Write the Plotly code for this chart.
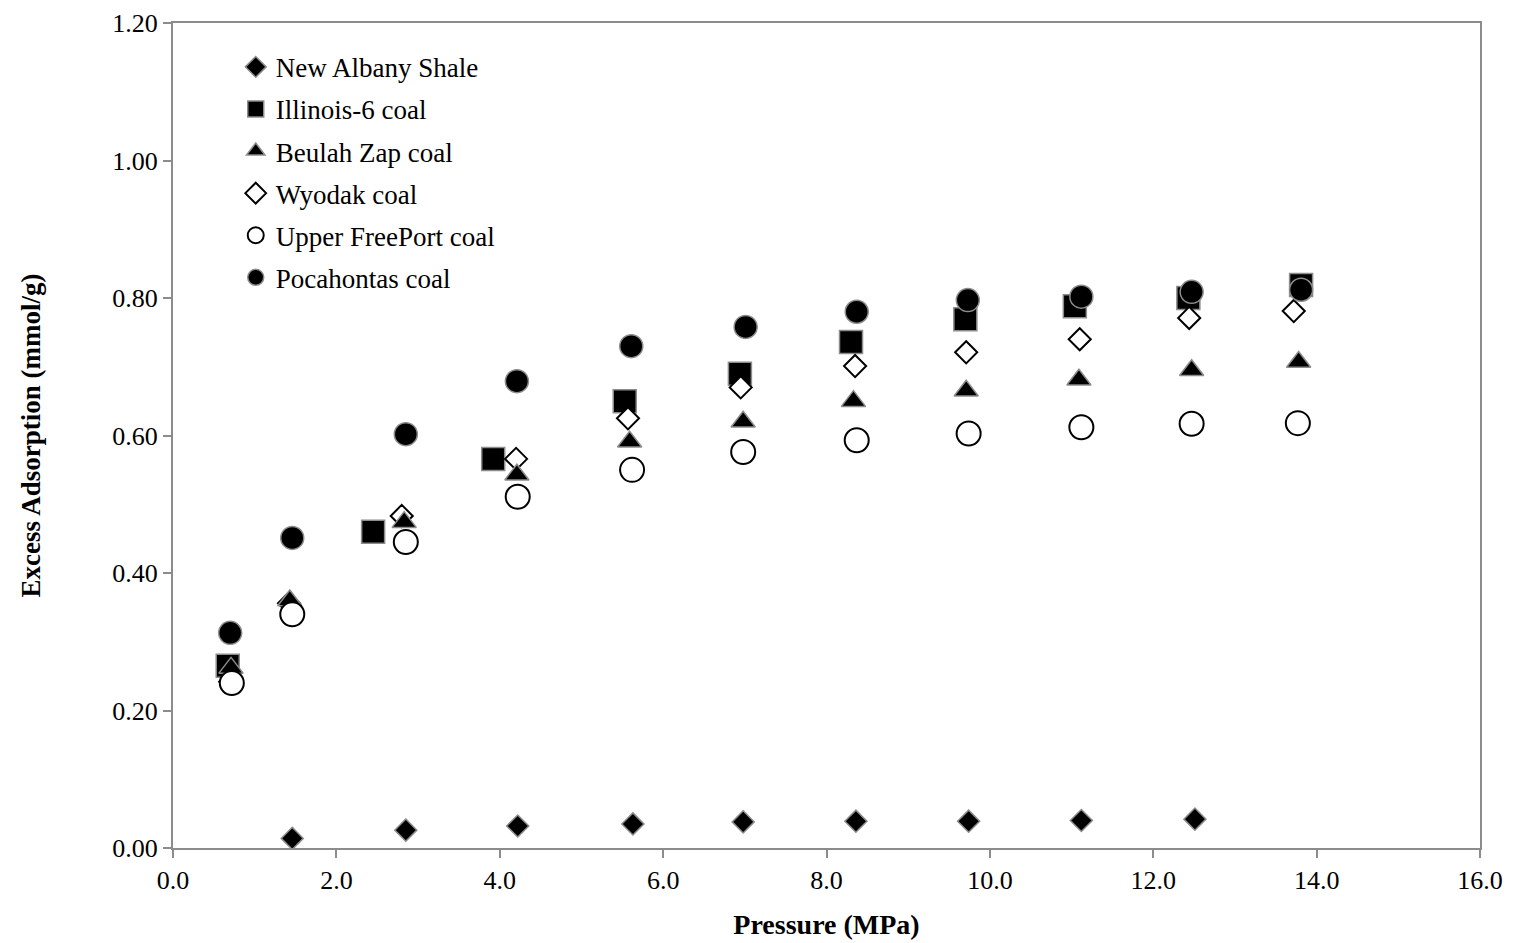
import plotly.graph_objects as go

# Data
na_x = [1.46, 2.85, 4.22, 5.63, 6.98, 8.36, 9.74, 11.12, 12.51]
na_y = [0.014, 0.026, 0.032, 0.035, 0.038, 0.039, 0.039, 0.040, 0.042]

il_x = [0.67, 2.45, 3.92, 5.53, 6.94, 8.30, 9.70, 11.04, 12.43, 13.81]
il_y = [0.265, 0.460, 0.566, 0.650, 0.690, 0.736, 0.769, 0.788, 0.800, 0.819]

bz_x = [0.71, 1.43, 2.83, 4.21, 5.59, 6.98, 8.33, 9.71, 11.09, 12.47, 13.78]
bz_y = [0.262, 0.360, 0.474, 0.543, 0.591, 0.620, 0.650, 0.665, 0.681, 0.695, 0.707]

wy_x = [0.70, 1.42, 2.80, 4.20, 5.57, 6.95, 8.35, 9.71, 11.10, 12.44, 13.72]
wy_y = [0.242, 0.356, 0.483, 0.566, 0.625, 0.670, 0.701, 0.721, 0.740, 0.771, 0.781]

uf_x = [0.72, 1.46, 2.85, 4.22, 5.62, 6.98, 8.37, 9.74, 11.12, 12.47, 13.77]
uf_y = [0.240, 0.340, 0.445, 0.511, 0.550, 0.576, 0.593, 0.603, 0.612, 0.617, 0.618]

po_x = [0.70, 1.46, 2.85, 4.21, 5.61, 7.01, 8.37, 9.73, 11.12, 12.47, 13.81]
po_y = [0.313, 0.451, 0.602, 0.679, 0.730, 0.758, 0.780, 0.797, 0.802, 0.809, 0.812]

FONT = "Liberation Serif, Times New Roman, serif"
GRAY = "#8c8c8c"

fig = go.Figure()

def add(name, x, y, symbol, size, fill, line_color, line_width, rank):
    fig.add_trace(go.Scatter(
        x=x, y=y, mode="markers", name=name, legendrank=rank,
        legendgroup=name,
        marker=dict(symbol=symbol, size=size, color=fill,
                    line=dict(color=line_color, width=line_width)),
    ))

# drawing order (later on top); legend order set by legendrank
add("New Albany Shale", na_x, na_y, "diamond", 17, "black", GRAY, 1.5, 1)
add("Illinois-6 coal", il_x, il_y, "square", 23, "black", GRAY, 1.5, 2)
add("Wyodak coal", wy_x, wy_y, "diamond", 17, "white", "black", 2, 4)
add("Beulah Zap coal", bz_x, bz_y, "triangle-up", 21, "black", GRAY, 1.5, 3)
add("Upper FreePort coal", uf_x, uf_y, "circle", 24, "white", "black", 2, 5)
add("Pocahontas coal", po_x, po_y, "circle", 23, "black", GRAY, 1.5, 6)

fig.update_layout(
    width=1516, height=943,
    margin=dict(l=173, r=36, t=23, b=95),
    paper_bgcolor="white", plot_bgcolor="white",
    font=dict(family=FONT, size=26, color="black"),
    showlegend=True,
    legend=dict(
        x=0.048, y=0.976, xanchor="left", yanchor="top",
        bgcolor="rgba(0,0,0,0)", traceorder="grouped",
        tracegroupgap=4, font=dict(family=FONT, size=27),
    ),
)

fig.update_xaxes(
    range=[0, 16], dtick=2, tick0=0, tickformat=".1f",
    showgrid=False, zeroline=False, automargin=False,
    showline=True, linecolor=GRAY, linewidth=2, mirror=True,
    ticks="outside", ticklen=8, tickcolor=GRAY, tickwidth=2,
    tickfont=dict(family=FONT, size=26),
    title=dict(text="<b>Pressure (MPa)</b>", font=dict(family=FONT, size=28), standoff=20),
)
fig.update_yaxes(
    range=[0, 1.2], dtick=0.2, tick0=0, tickformat=".2f",
    showgrid=False, zeroline=False, automargin=False,
    showline=True, linecolor=GRAY, linewidth=2, mirror=True,
    ticks="outside", ticklen=8, tickcolor=GRAY, tickwidth=2,
    tickfont=dict(family=FONT, size=26),
    title=dict(text="<b>Excess Adsorption (mmol/g)</b>", font=dict(family=FONT, size=27), standoff=64),
)

fig.write_html("out.html")
